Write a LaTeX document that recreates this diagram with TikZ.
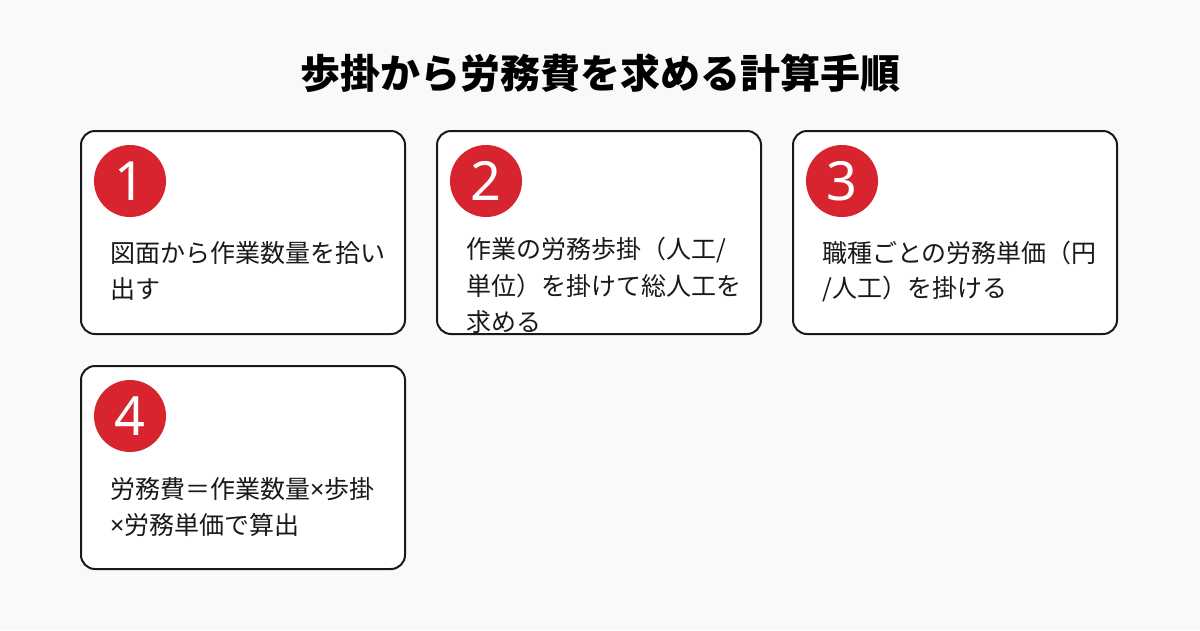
\documentclass[tikz,border=0pt]{standalone}
\usepackage{fontspec}
\setmainfont{Noto Sans CJK JP}
\newfontfamily\latn{Noto Sans}
\definecolor{bg}{HTML}{F9F9F7}
\definecolor{redc}{HTML}{D7242F}
\newcommand{\tms}{{\latn ×}}
\tikzset{
 card/.style={draw=black!90,line width=2pt,rounded corners=14pt,fill=white},
 badge/.style={circle,fill=redc,minimum size=72pt,inner sep=0pt,text=white,font=\latn\fontsize{54}{54}\selectfont},
 body/.style={anchor=west,inner sep=0pt,font=\fontsize{25}{25}\selectfont,text=black!90}
}
\begin{document}
\begin{tikzpicture}[x=1pt,y=-1pt]
\fill[bg] (0,0) rectangle (1200,630);
\useasboundingbox (0,0) rectangle (1200,630);
\node[font=\fontsize{40}{40}\selectfont\bfseries] (title) at (600,73) {歩掛から労務費を求める計算手順};
\draw[card] (81,131) rectangle (405,334);
\draw[card] (437,131) rectangle (761,334);
\draw[card] (793,131) rectangle (1117,334);
\draw[card] (81,366) rectangle (405,569);
\node[badge] (b1) at (130,181) {1};
\node[badge] (b2) at (486,181) {2};
\node[badge] (b3) at (842,181) {3};
\node[badge] (b4) at (130,416) {4};
\node[body] (t1a) at (110,253) {図面から作業数量を拾い};
\node[body] (t1b) at (110,289) {出す};
\node[body] (t2a) at (466,250) {作業の労務歩掛（人工/};
\node[body] (t2b) at (466,286) {単位）を掛けて総人工を};
\node[body] (t2c) at (466,322) {求める};
\node[body] (t3a) at (822,253) {職種ごとの労務単価（円};
\node[body] (t3b) at (822,289) {/人工）を掛ける};
\node[body] (t4a) at (110,489) {労務費＝作業数量\tms 歩掛};
\node[body] (t4b) at (110,525) {\tms 労務単価で算出};
\end{tikzpicture}
\end{document}
